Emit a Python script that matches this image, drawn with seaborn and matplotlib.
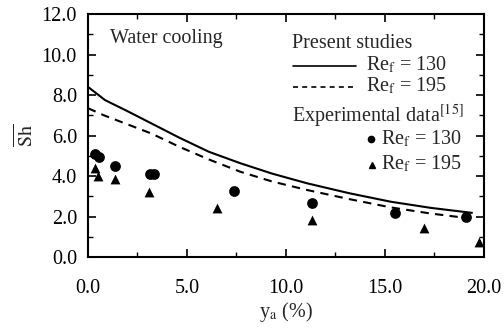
import numpy as np
import pandas as pd
import matplotlib
matplotlib.use("Agg")
import matplotlib.pyplot as plt
import seaborn as sns
from matplotlib.ticker import MultipleLocator, FormatStrFormatter

# Present studies (model curves)
ya_130 = [0.0, 0.4, 0.86, 2.0, 3.2, 4.6, 6.1, 7.7, 9.3, 11.07, 13.2, 15.3, 17.3, 19.4]
sh_130 = [8.4, 8.1, 7.75, 7.2, 6.6, 5.9, 5.2, 4.63, 4.12, 3.64, 3.15, 2.73, 2.43, 2.18]
ya_195 = [0.0, 0.8, 2.0, 3.2, 4.6, 6.1, 7.7, 9.3, 11.07, 13.2, 15.3, 17.3, 19.1]
sh_195 = [7.35, 7.0, 6.55, 6.1, 5.45, 4.82, 4.21, 3.73, 3.31, 2.86, 2.45, 2.15, 1.93]

# Experimental data [15]
exp_x_130 = [0.35, 0.55, 1.37, 3.15, 3.35, 7.4, 11.3, 15.5, 19.1]
exp_y_130 = [5.1, 4.95, 4.5, 4.1, 4.1, 3.25, 2.65, 2.15, 1.98]
exp_x_195 = [0.35, 0.5, 1.37, 3.1, 6.5, 11.3, 17.0, 19.75]
exp_y_195 = [4.4, 4.0, 3.85, 3.2, 2.4, 1.85, 1.45, 0.75]

sns.set_theme(style="ticks")
plt.rcParams['font.family'] = ['Liberation Serif', 'DejaVu Serif']
plt.rcParams['mathtext.fontset'] = 'stix'

fig = plt.figure(figsize=(5.04, 3.34), dpi=100)
ax = fig.add_axes([0.1746, 0.2305, 0.7854, 0.7275])

df130 = pd.DataFrame({"x": ya_130, "y": sh_130})
df195 = pd.DataFrame({"x": ya_195, "y": sh_195})
sns.lineplot(data=df130, x="x", y="y", ax=ax, color="black", lw=1.5, sort=False)
sns.lineplot(data=df195, x="x", y="y", ax=ax, color="black", lw=1.5,
             linestyle=(0, (4, 3)), sort=False)
sns.scatterplot(x=exp_x_130, y=exp_y_130, ax=ax, marker="o", s=60,
                color="black", edgecolor="black", linewidth=0)
sns.scatterplot(x=exp_x_195, y=exp_y_195, ax=ax, marker="^", s=50,
                color="black", edgecolor="black", linewidth=0)

ax.set_xlim(0, 20)
ax.set_ylim(0, 12)
ax.xaxis.set_major_locator(MultipleLocator(5))
ax.xaxis.set_minor_locator(MultipleLocator(2.5))
ax.yaxis.set_major_locator(MultipleLocator(2))
ax.yaxis.set_minor_locator(MultipleLocator(1))
ax.xaxis.set_major_formatter(FormatStrFormatter('%.1f'))
ax.yaxis.set_major_formatter(FormatStrFormatter('%.1f'))
fs = 14.5
ax.tick_params(which='both', direction='in', top=True, right=True,
               labelsize=fs, colors='black')
ax.tick_params(which='major', length=6, width=1.2)
ax.tick_params(which='minor', length=3.5, width=1.0)
ax.tick_params(axis='x', pad=16)
ax.tick_params(axis='y', pad=8)
for sp in ax.spines.values():
    sp.set_linewidth(1.5)
    sp.set_color('black')

ax.set_xlabel(r'y$_\mathrm{a}$ (%)', fontsize=fs, labelpad=1)
ax.set_ylabel(r'$\overline{\mathrm{Sh}}$', fontsize=fs, labelpad=3)

ax.text(0.056, 0.90, 'Water cooling', transform=ax.transAxes, fontsize=fs, va='center')
ax.text(0.515, 0.88, 'Present studies', transform=ax.transAxes, fontsize=fs, va='center')
ax.plot([0.518, 0.677], [0.786, 0.786], transform=ax.transAxes, color='black', lw=1.2)
ax.text(0.703, 0.79, r'Re$_\mathrm{f}$ = 130', transform=ax.transAxes, fontsize=fs, va='center')
ax.plot([0.518, 0.677], [0.70, 0.70], transform=ax.transAxes, color='black', lw=1.2,
        linestyle=(0, (3, 2.5)))
ax.text(0.703, 0.704, r'Re$_\mathrm{f}$ = 195', transform=ax.transAxes, fontsize=fs, va='center')
ax.text(0.515, 0.578, r'Experimental data$^{[15]}$', transform=ax.transAxes, fontsize=fs, va='center')
ax.plot([0.715], [0.484], transform=ax.transAxes, marker='o', color='black', ms=4.5)
ax.text(0.74, 0.484, r'Re$_\mathrm{f}$ = 130', transform=ax.transAxes, fontsize=fs, va='center')
ax.plot([0.718], [0.378], transform=ax.transAxes, marker='^', color='black', ms=4.5)
ax.text(0.74, 0.384, r'Re$_\mathrm{f}$ = 195', transform=ax.transAxes, fontsize=fs, va='center')

fig.savefig("out.png", dpi=100)
